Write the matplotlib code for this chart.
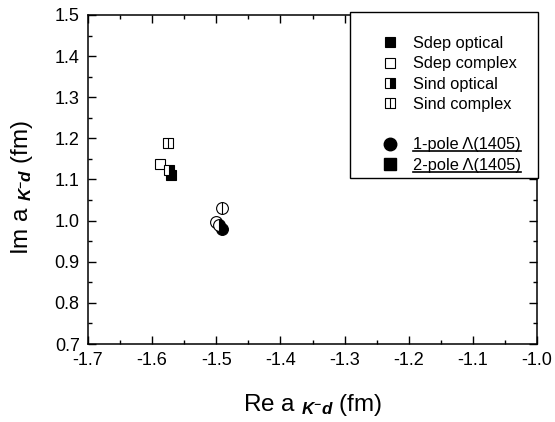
import matplotlib
matplotlib.use("Agg")
import matplotlib.pyplot as plt
from matplotlib.path import Path
from matplotlib.lines import Line2D
from matplotlib.patches import Rectangle
from matplotlib.ticker import MultipleLocator, FormatStrFormatter

plt.rcParams["font.family"] = ["Liberation Sans", "DejaVu Sans"]
plt.rcParams["mathtext.fontset"] = "custom"
plt.rcParams["mathtext.rm"] = "Liberation Sans"
plt.rcParams["mathtext.it"] = "Liberation Sans:italic"
plt.rcParams["mathtext.bf"] = "Liberation Sans:bold"
plt.rcParams["mathtext.bfit"] = "Liberation Sans:italic:bold"

# scattering length a_{K-d}, fm
labels = ["Sdep optical", "Sdep complex", "Sind optical", "Sind complex"]
re_1pole = [-1.491, -1.501, -1.496, -1.491]
im_1pole = [0.980, 0.997, 0.989, 1.030]
re_2pole = [-1.571, -1.588, -1.573, -1.576]
im_2pole = [1.110, 1.137, 1.124, 1.188]

# marker with a vertical bar through it ("Sind complex")
bar = Path([(0, -1), (0, 1)], [Path.MOVETO, Path.LINETO])
sq = Path([(-1, -1), (1, -1), (1, 1), (-1, 1), (-1, -1)],
          [Path.MOVETO, Path.LINETO, Path.LINETO, Path.LINETO, Path.CLOSEPOLY])
sq_bar = Path.make_compound_path(sq, bar)
circ_bar = Path.make_compound_path(Path.unit_circle(), bar)

styles = [
    dict(mfc="black", fillstyle="full"),
    dict(mfc="white", fillstyle="full"),
    dict(mfc="black", fillstyle="right", markerfacecoloralt="white"),
    dict(mfc="white", fillstyle="full"),
]

fig = plt.figure(figsize=(5.55, 4.22), dpi=100)
ax = fig.add_axes([0.1586, 0.1848, 0.809, 0.7797])

for i in range(4):
    st = styles[i]
    m_c = circ_bar if i == 3 else "o"
    m_s = sq_bar if i == 3 else "s"
    ax.plot(re_1pole[i], im_1pole[i], marker=m_c, ms=8.5, mec="black",
            mew=0.8, ls="none", **st)
    ax.plot(re_2pole[i], im_2pole[i], marker=m_s, ms=7.5, mec="black",
            mew=0.8, ls="none", **st)

ax.set_xlim(-1.7, -1.0)
ax.set_ylim(0.7, 1.5)
ax.xaxis.set_major_locator(MultipleLocator(0.1))
ax.xaxis.set_minor_locator(MultipleLocator(0.05))
ax.yaxis.set_major_locator(MultipleLocator(0.1))
ax.yaxis.set_minor_locator(MultipleLocator(0.05))
ax.xaxis.set_major_formatter(FormatStrFormatter("%.1f"))
ax.yaxis.set_major_formatter(FormatStrFormatter("%.1f"))
ax.tick_params(which="both", direction="in", top=True, right=True,
               labelsize=13, width=1)
ax.tick_params(which="major", length=6)
ax.tick_params(which="minor", length=3)
ax.tick_params(axis="x", which="major", pad=6)
ax.tick_params(axis="y", which="major", pad=6)
for s in ax.spines.values():
    s.set_linewidth(1.1)

ax.set_xlabel(r"Re a $_{\mathbfit{K^{-}d}}$ (fm)", fontsize=17.5, labelpad=16)
ax.set_ylabel(r"Im a $_{\mathbfit{K^{-}d}}$ (fm)", fontsize=17.5, labelpad=14,
              y=0.476)

# legend: frame drawn separately so the padding can be uneven like the original
ax.add_patch(Rectangle((0.5835, 0.5046), 0.4191, 0.5045, transform=ax.transAxes,
                       fill=True, facecolor="white", edgecolor="black",
                       lw=1.0, clip_on=False, zorder=4))
handles = []
for i in range(4):
    st = styles[i]
    handles.append(Line2D([], [], marker=sq_bar if i == 3 else "s", ms=7,
                          mec="black", mew=0.8, ls="none", **st))
handles.append(Line2D([], [], ls="none"))
handles.append(Line2D([], [], marker="o", ms=9, mfc="black", mec="black",
                      ls="none"))
handles.append(Line2D([], [], marker="s", ms=8, mfc="black", mec="black",
                      ls="none"))
leg_labels = labels + ["", "1-pole \u039b(1405)", "2-pole \u039b(1405)"]
leg = ax.legend(handles, leg_labels, loc="upper left",
                bbox_to_anchor=(0.648, 0.936), fontsize=11.8, frameon=False,
                borderpad=0, labelspacing=0.32, handlelength=1.4,
                handletextpad=0.7, borderaxespad=0)
leg.set_zorder(5)

# underline the last two legend labels
fig.canvas.draw()
for t in leg.get_texts()[-2:]:
    bb = t.get_window_extent()
    y = bb.y0 + 1
    fig.add_artist(Line2D([bb.x0, bb.x1], [y, y], transform=None,
                          color="black", lw=1.2, zorder=6))

fig.savefig("out.png", dpi=100)
